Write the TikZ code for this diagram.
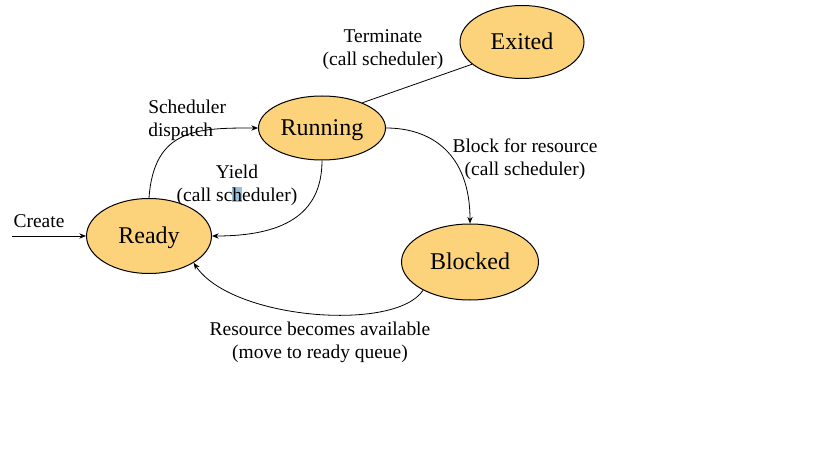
\documentclass[tikz,border=0pt]{standalone}
\usepackage{fontspec}
\setmainfont{Liberation Serif}
\usetikzlibrary{shapes.geometric,arrows.meta}
\definecolor{statefill}{RGB}{252,211,122}
\definecolor{selblue}{RGB}{153,191,221}
\begin{document}
\begin{tikzpicture}[x=0.75pt,y=-0.75pt,
  state/.style={ellipse,draw=black,line width=0.75pt,fill=statefill,inner sep=0pt,text height=11.9pt,text depth=0pt,font=\fontsize{18}{21}\selectfont},
  lbl/.style={font=\fontsize{14.6}{17.25}\selectfont,align=center,inner sep=0pt},
  conn/.style={line width=0.6pt,-{Stealth[length=5pt,width=4pt]}},
  plain/.style={line width=0.6pt}]
\useasboundingbox (0,0) rectangle (819,460);
\fill[white] (0,0) rectangle (819,460);
% selection highlight
\fill[selblue] (232,187) rectangle (242,202);
% states
\node[state,minimum width=93.75pt,minimum height=56.25pt] (ready) at (149,236) {Ready};
\node[state,minimum width=95.25pt,minimum height=48pt] (running) at (322,128) {Running};
\node[state,minimum width=93pt,minimum height=54.75pt] (exited) at (522,42) {Exited};
\node[state,minimum width=102.75pt,minimum height=57pt] (blocked) at (470,262) {Blocked};
\coordinate (cstart) at (12,236);
% connectors
\draw[conn] (cstart) -- (ready.west);
\draw[conn] (ready.north) .. controls +(5,-70) and +(-60,0) .. (running.west);
\draw[conn] (running.south) .. controls +(0,55) and +(70,0) .. (ready.east);
\draw[plain] (running.32) -- (exited.-156);
\draw[conn] (running.east) .. controls +(45,0) and +(0,-70) .. (blocked.north);
\draw[conn] (blocked.-149) .. controls +(-27,42) and +(38,57) .. (ready.-31);
% labels
\node[lbl] (createlbl) at (39,221) {Create};
\node[lbl,align=left,anchor=west] (dispatchlbl) at (148,120) {Scheduler\\dispatch};
\node[lbl] (yieldlbl) at (237,185) {Yield\\(call scheduler)};
\node[lbl] (termlbl) at (383,50) {Terminate\\(call scheduler)};
\node[lbl] (blocklbl) at (525,159) {Block for resource\\(call scheduler)};
\node[lbl] (resourcelbl) at (320,342) {Resource becomes available\\(move to ready queue)};
\end{tikzpicture}
\end{document}
